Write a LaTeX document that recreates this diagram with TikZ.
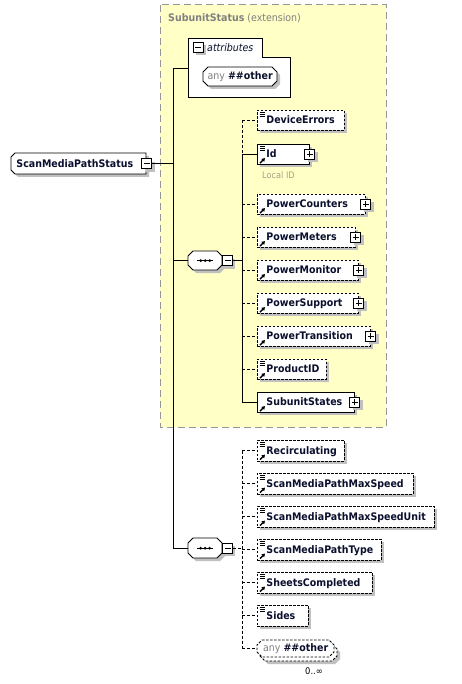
\documentclass[tikz,border=0pt]{standalone}
\usepackage{fontspec}
\setmainfont[FakeStretch=0.91]{DejaVu Sans}
\usetikzlibrary{calc,arrows.meta}
\definecolor{nodetext}{RGB}{10,15,45}
\definecolor{yel}{RGB}{255,255,198}
\definecolor{shadowc}{RGB}{192,192,192}
\definecolor{frameg}{RGB}{150,150,150}
\definecolor{titleg}{RGB}{128,128,128}
\definecolor{localg}{RGB}{165,160,140}
\tikzset{
  elembox/.style={draw=black, fill=white, line width=0.9pt, inner xsep=9pt, inner ysep=0pt,
    align=left, font=\fontsize{10.4}{12}\selectfont\bfseries, text=nodetext,
    text height=8.5pt, text depth=1.5pt},
  opt/.style={dash pattern=on 2.5pt off 1.5pt},
  conn/.style={line width=0.9pt, draw=black},
  optconn/.style={conn, dash pattern=on 3pt off 2pt},
  pmbox/.style={draw=black, fill=white, line width=0.9pt, minimum size=10pt, inner sep=0pt},
  ghost/.style={draw=none, fill=none, inner sep=0pt},
  shapeline/.style={line width=0.9pt, draw=black, fill=white},
}
\newcommand\elem[7]{%
  \fill[shadowc] (#2+3,#3+3) rectangle ++(#4,#5);
  \pgfmathsetmacro\elemtw{#4-18}%
  \node[elembox,#6,text width=\elemtw pt,minimum height=#5pt,anchor=north west] (#1) at (#2,#3) {#7};}
\newcommand\lineicon[1]{%
  \draw[line width=0.8pt] ($(#1.north west)+(2.5,2.5)$) -- +(5,0)
    ($(#1.north west)+(2.5,4.5)$) -- +(5,0) ($(#1.north west)+(2.5,6.5)$) -- +(5,0);}
\newcommand\refarrow[1]{%
  \draw[line width=1.3pt,-{Triangle[length=3.2pt,width=3.8pt]}] ($(#1.south west)+(3,-1.8)$) -- +(5,-5);}
\newcommand\plusbox[1]{%
  \fill[shadowc] ($(#1.east)+(-2,-2)$) rectangle +(10,10);
  \node[pmbox] (#1-p) at (#1.east) {};
  \draw[line width=0.9pt] ($(#1-p.center)+(-3,0)$) -- +(6,0) ($(#1-p.center)+(0,-3)$) -- +(0,6);}
\begin{document}
\begin{tikzpicture}[x=1pt,y=-1pt]
\useasboundingbox (0,0) rectangle (462,684);
\fill[white] (0,0) rectangle (462,684);
% extension frame
\draw[frameg, dash pattern=on 7pt off 4pt, line width=1pt, fill=yel] (160,5) rectangle (386,427);
\node[anchor=west, inner sep=0pt, text=titleg, font=\fontsize{10.4}{12}\selectfont] (title) at (168,18.5) {\textbf{SubunitStatus} (extension)};
% attributes group
\draw[line width=0.9pt, fill=white] (188,38) -- (262,38) -- (262,57) -- (290,57) -- (290,97) -- (188,97) -- cycle;
\fill[shadowc] ($(198,47.5)+(-2,-2)$) rectangle +(10,10);
\node[pmbox] (attrm) at (198,47.5) {};
\draw[line width=0.9pt] ($(attrm.center)+(-3,0)$) -- +(6,0);
\node[anchor=west, inner sep=0pt, font=\fontsize{10.4}{12}\selectfont\itshape, text=nodetext] (attrlbl) at (207,47.5) {attributes};
\coordinate (attrin) at (188,68);
% any ##other (attributes)
\fill[shadowc, shift={(3,3)}] (208,67) -- (272,67) -- (277,72) -- (277,81) -- (272,86) -- (208,86) -- (203,81) -- (203,72) -- cycle;
\draw[shapeline] (208,67) -- (272,67) -- (277,72) -- (277,81) -- (272,86) -- (208,86) -- (203,81) -- (203,72) -- cycle;
\node[ghost, minimum width=74pt, minimum height=19pt, anchor=north west, font=\fontsize{10.4}{12}\selectfont, text=nodetext] (anyA) at (203,67) {\textcolor{titleg}{any}\hspace{3pt}\textbf{\#\#other}};
% root element
\fill[shadowc, shift={(3,3)}] (15,153) -- (146,153) -- (146,174) -- (15,174) -- (11,170) -- (11,157) -- cycle;
\draw[shapeline] (15,153) -- (146,153) -- (146,174) -- (15,174) -- (11,170) -- (11,157) -- cycle;
\node[elembox, draw=none, fill=none, inner xsep=5pt, text width=125pt, minimum height=21pt, anchor=north west] (smps) at (11,153) {ScanMediaPathStatus};
\fill[shadowc] ($(smps.east)+(-2,-2)$) rectangle +(10,10);
\node[pmbox] (smps-m) at (smps.east) {};
\draw[line width=0.9pt] ($(smps-m.center)+(-3,0)$) -- +(6,0);
% sequence 1
\fill[shadowc, shift={(3,3)}] (193,251) -- (217,251) -- (222,256) -- (222,265) -- (217,270) -- (193,270) -- (188,265) -- (188,256) -- cycle;
\draw[shapeline] (193,251) -- (217,251) -- (222,256) -- (222,265) -- (217,270) -- (193,270) -- (188,265) -- (188,256) -- cycle;
\node[ghost, minimum width=34pt, minimum height=19pt, anchor=north west] (seq1) at (188,251) {};
\draw[line width=0.7pt] ($(seq1.center)+(-8,0)$) -- +(16,0);
\foreach \dx in {-4.5,0,4.5} \fill ($(seq1.center)+(\dx,0)$) circle (1.5pt);
\fill[shadowc] ($(seq1.east)+(3,-2)$) rectangle +(10,10);
\node[pmbox, anchor=west] (s1m) at (seq1.east) {};
\draw[line width=0.9pt] ($(s1m.center)+(-3,0)$) -- +(6,0);
% sequence 2
\fill[shadowc, shift={(3,3)}] (193,538) -- (217,538) -- (222,543) -- (222,553) -- (217,558) -- (193,558) -- (188,553) -- (188,543) -- cycle;
\draw[shapeline] (193,538) -- (217,538) -- (222,543) -- (222,553) -- (217,558) -- (193,558) -- (188,553) -- (188,543) -- cycle;
\node[ghost, minimum width=34pt, minimum height=20pt, anchor=north west] (seq2) at (188,538) {};
\draw[line width=0.7pt] ($(seq2.center)+(-8,0)$) -- +(16,0);
\foreach \dx in {-4.5,0,4.5} \fill ($(seq2.center)+(\dx,0)$) circle (1.5pt);
\fill[shadowc] ($(seq2.east)+(3,-2)$) rectangle +(10,10);
\node[pmbox, anchor=west] (s2m) at (seq2.east) {};
\draw[line width=0.9pt] ($(s2m.center)+(-3,0)$) -- +(6,0);
% group 1 elements
\elem{de}{257}{110}{87}{20}{opt}{DeviceErrors}
\lineicon{de}
\elem{id}{257}{144}{52}{20}{}{Id}
\lineicon{id}\refarrow{id}\plusbox{id}
\node[anchor=west, inner sep=0pt, text=localg, font=\fontsize{9}{10}\selectfont] (localid) at (262,175.5) {Local ID};
\elem{pc}{257}{194}{108}{20}{opt}{PowerCounters}
\refarrow{pc}\plusbox{pc}
\elem{pme}{257}{227}{98}{20}{opt}{PowerMeters}
\refarrow{pme}\plusbox{pme}
\elem{pmo}{257}{260}{101}{20}{opt}{PowerMonitor}
\refarrow{pmo}\plusbox{pmo}
\elem{ps}{257}{293}{101}{20}{opt}{PowerSupport}
\refarrow{ps}\plusbox{ps}
\elem{pt}{257}{326}{113}{20}{opt}{PowerTransition}
\refarrow{pt}\plusbox{pt}
\elem{pid}{257}{359}{69}{20}{opt}{ProductID}
\lineicon{pid}\refarrow{pid}
\elem{ss}{257}{392}{97}{20}{}{SubunitStates}
\refarrow{ss}\plusbox{ss}
% group 2 elements
\elem{rc}{257}{440}{87}{20.5}{opt}{Recirculating}
\lineicon{rc}\refarrow{rc}
\elem{smax}{257}{473}{156}{20.5}{opt}{ScanMediaPathMaxSpeed}
\lineicon{smax}\refarrow{smax}
\elem{smaxu}{257}{506}{177}{20.5}{opt}{ScanMediaPathMaxSpeedUnit}
\lineicon{smaxu}\refarrow{smaxu}
\elem{smt}{257}{539}{124}{20.5}{opt}{ScanMediaPathType}
\lineicon{smt}\refarrow{smt}
\elem{sc}{257}{572}{115}{20.5}{opt}{SheetsCompleted}
\lineicon{sc}\refarrow{sc}
\elem{sd}{257}{605}{51}{20.5}{opt}{Sides}
\lineicon{sd}
% any ##other (sequence 2), stacked
\fill[shadowc, shift={(6,7)}] (262,640) -- (329,640) -- (334,645) -- (334,652) -- (329,657) -- (262,657) -- (257,652) -- (257,645) -- cycle;
\draw[line width=0.9pt, fill=white, opt, shift={(3,4)}] (262,640) -- (329,640) -- (334,645) -- (334,652) -- (329,657) -- (262,657) -- (257,652) -- (257,645) -- cycle;
\draw[line width=0.9pt, fill=white, opt] (262,640) -- (329,640) -- (334,645) -- (334,652) -- (329,657) -- (262,657) -- (257,652) -- (257,645) -- cycle;
\node[ghost, minimum width=77pt, minimum height=17pt, anchor=north west, font=\fontsize{10.4}{12}\selectfont, text=nodetext] (any2) at (257,640) {\textcolor{titleg}{any}\hspace{3pt}\textbf{\#\#other}};
\node[inner sep=0pt, font=\fontsize{9.2}{10}\selectfont] (mult) at (314,671) {0..∞};
% connectors
\coordinate (ttop) at (173,68);
\coordinate (b1) at (242,0);
\draw[conn] (attrin) -- (ttop) -- (ttop |- seq2.west) -- (seq2.west);
\draw[conn] (smps-m.east) -- (smps-m.east -| ttop);
\draw[conn] (seq1.west -| ttop) -- (seq1.west);
\draw[conn] (s1m.east) -- (s1m.east -| b1);
\draw[optconn] (de.west -| b1) -- (id.west -| b1);
\draw[conn] (id.west -| b1) -- (ss.west -| b1);
\draw[optconn] (de.west -| b1) -- (de.west);
\draw[conn] (id.west -| b1) -- (id.west);
\foreach \n in {pc,pme,pmo,ps,pt,pid} \draw[optconn] (\n.west -| b1) -- (\n.west);
\draw[conn] (ss.west -| b1) -- (ss.west);
\draw[optconn] (s2m.east) -- (s2m.east -| b1);
\draw[optconn] (rc.west -| b1) -- (any2.west -| b1);
\foreach \n in {rc,smax,smaxu,smt,sc,sd,any2} \draw[optconn] (\n.west -| b1) -- (\n.west);
\end{tikzpicture}
\end{document}
